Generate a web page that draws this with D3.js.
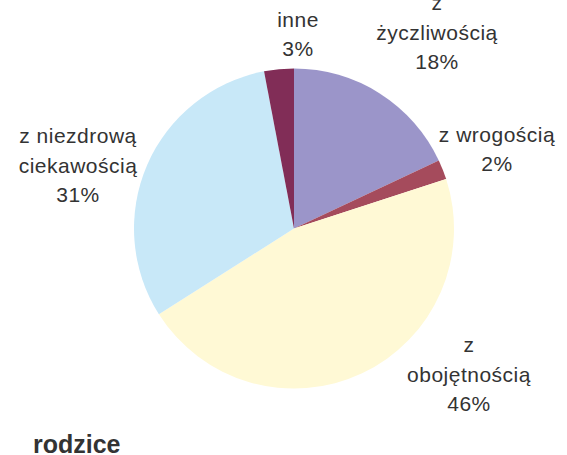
<!DOCTYPE html>
<html>
<head>
<meta charset="UTF-8">
<title>rodzice</title>
<script src="https://d3js.org/d3.v7.min.js"></script>
<style>
  body { margin:0; background:#fff; }
  svg text { font-family:"Liberation Sans", Arial, sans-serif; fill:#333; }
</style>
</head>
<body>
<div id="chart"></div>
<script>
// data
const categories = ['z życzliwością', 'z wrogością', 'z obojętnością', 'z niezdrową ciekawością', 'inne'];
const values = [18, 2, 46, 31, 3];
const labelLines = [
  ['z', 'życzliwością', '18%'],
  ['z wrogością', '2%'],
  ['z', 'obojętnością', '46%'],
  ['z niezdrową', 'ciekawością', '31%'],
  ['inne', '3%']
];
const colors = ['#9b95c9', '#a54b5c', '#fff9d5', '#c8e8f8', '#812d57'];
const title = 'rodzice';

const W = 567, H = 455;
const cx = 294, cy = 228.5, R = 160;
const lineH = 29.5;
// label block centres, offset from the pie centre (Excel moved them by hand)
const labelOffset = [[143,-196],[203,-79],[175,146],[-216,-63],[4,-194]];

const svg = d3.select('#chart').append('svg')
  .attr('width', W).attr('height', H);

const g = svg.append('g').attr('transform', `translate(${cx},${cy})`);

const pie = d3.pie().sort(null).value(d => d);
const arc = d3.arc().innerRadius(0).outerRadius(R);
const arcs = pie(values);

g.selectAll('path.slice')
  .data(arcs)
  .enter().append('path')
  .attr('class','slice')
  .attr('d', arc)
  .attr('fill', (d,i) => colors[i]);

const labels = g.selectAll('text.lbl')
  .data(arcs)
  .enter().append('text')
  .attr('class','lbl')
  .attr('text-anchor','middle')
  .style('font-size','21px')
  .style('letter-spacing','0.5px')
  .attr('transform', (d,i) => `translate(${labelOffset[i][0]},${labelOffset[i][1]})`);

labels.each(function(d,i){
  const lines = labelLines[i];
  const first = -(lines.length-1)*lineH/2 + 7;
  d3.select(this).selectAll('tspan')
    .data(lines)
    .enter().append('tspan')
    .attr('x', 0)
    .attr('y', (t,j) => first + j*lineH)
    .text(t => t);
});

svg.append('text')
  .attr('x', 33).attr('y', 453)
  .style('font-size','25px')
  .style('font-weight','bold')
  .text(title);
</script>
</body>
</html>
